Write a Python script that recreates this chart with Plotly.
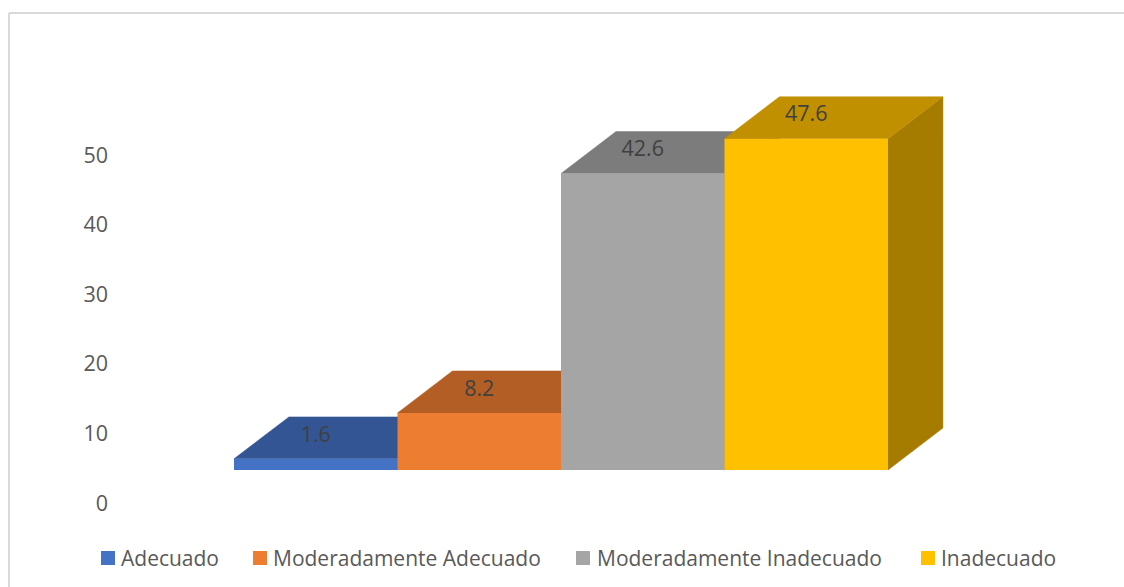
import plotly.graph_objects as go

categorias = ['Adecuado', 'Moderadamente Adecuado', 'Moderadamente Inadecuado', 'Inadecuado']
valores = [1.6, 8.2, 42.6, 47.6]
ticks = [0, 10, 20, 30, 40, 50]

cor_frente = ['#4472C4', '#ED7D31', '#A5A5A5', '#FFC000']
cor_topo = ['#335593', '#B35E24', '#7C7C7C', '#C09000']
cor_lado = ['#294476', '#8F4B1D', '#636363', '#A67C00']

W, H = 1124, 587

# efeito 3D: base da barra e profundidade, nas unidades dos eixos
base = 4.74
prof_x = 0.336
prof_y = 6.03

px_y = 6.96
px_x = 163.5
esq, dir_, topo, baixo = 109, 1000, 60, 530
range_x = [-0.5 - (234 - esq) / px_x, -0.5 + (dir_ - 234) / px_x]
range_y = [-(baixo - 503) / px_y, (503 - topo) / px_y]

fig = go.Figure()

for i, v in enumerate(valores):
    alto = base + v
    # lado
    fig.add_trace(go.Scatter(
        x=[i + 0.5, i + 0.5 + prof_x, i + 0.5 + prof_x, i + 0.5, i + 0.5],
        y=[base, base + prof_y, alto + prof_y, alto, base],
        mode='lines', fill='toself', fillcolor=cor_lado[i],
        line=dict(color=cor_lado[i], width=0.5),
        showlegend=False, hoverinfo='skip'
    ))
    # topo
    fig.add_trace(go.Scatter(
        x=[i - 0.5, i + 0.5, i + 0.5 + prof_x, i - 0.5 + prof_x, i - 0.5],
        y=[alto, alto, alto + prof_y, alto + prof_y, alto],
        mode='lines', fill='toself', fillcolor=cor_topo[i],
        line=dict(color=cor_topo[i], width=0.5),
        showlegend=False, hoverinfo='skip'
    ))

fig.add_trace(go.Scatter(
    x=list(range(4)),
    y=[base + v + 3.25 for v in valores],
    mode='text',
    text=[str(v) for v in valores],
    textfont=dict(family='Open Sans', size=21.5, color='#404040'),
    showlegend=False, hoverinfo='skip'
))

# frente fica num eixo sobreposto para cobrir os topos das barras vizinhas
fig.add_trace(go.Bar(
    x=list(range(4)),
    y=valores,
    base=base,
    width=1,
    marker=dict(color=cor_frente, line=dict(width=0)),
    xaxis='x2', yaxis='y2',
    showlegend=False,
    customdata=categorias,
    hovertemplate='%{customdata}: %{y}<extra></extra>'
))

# legenda com espacamento proprio
leg_quadro = [101, 253, 576, 921]
leg_texto = [119, 271, 595, 939]
for i, nome in enumerate(categorias):
    fig.add_shape(type='rect', xref='paper', yref='paper',
                  x0=leg_quadro[i] / W, x1=(leg_quadro[i] + 14) / W,
                  y0=1 - 565 / H, y1=1 - 551 / H,
                  fillcolor=cor_frente[i], line_width=0)
    fig.add_annotation(text=nome, xref='paper', yref='paper', showarrow=False,
                       x=leg_texto[i] / W, y=1 - 558 / H,
                       xanchor='left', yanchor='middle',
                       font=dict(family='Open Sans', size=21, color='#595959'))

# borda do grafico
fig.add_shape(type='line', xref='paper', yref='paper', x0=9 / W, x1=1, y0=1 - 13 / H, y1=1 - 13 / H,
              line=dict(color='#D9D9D9', width=2))
fig.add_shape(type='line', xref='paper', yref='paper', x0=9 / W, x1=9 / W, y0=0, y1=1 - 13 / H,
              line=dict(color='#D9D9D9', width=2))

eixo_x = dict(domain=[esq / W, dir_ / W], range=range_x, visible=False)
eixo_y = dict(domain=[1 - baixo / H, 1 - topo / H], range=range_y)

fig.update_layout(
    width=W,
    height=H,
    margin=dict(l=0, r=0, t=0, b=0),
    paper_bgcolor='white',
    plot_bgcolor='rgba(0, 0, 0, 0)',
    font=dict(family='Open Sans', size=21, color='#595959'),
    xaxis=eixo_x,
    yaxis=dict(**eixo_y, tickvals=ticks, showgrid=False, zeroline=False, showline=False,
               ticks='', tickfont=dict(size=21.5, color='#595959')),
    xaxis2=dict(**eixo_x, overlaying='x', anchor='y2'),
    yaxis2=dict(**eixo_y, overlaying='y', anchor='x2', visible=False),
    showlegend=False
)

fig.write_html("out.html", config=dict(displayModeBar=False), post_script="document.body.style.margin='0'")
